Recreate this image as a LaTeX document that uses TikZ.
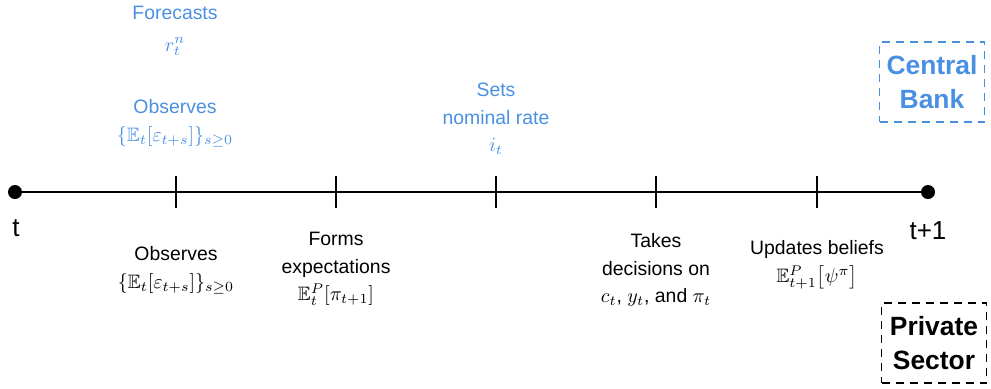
\documentclass[tikz,border=0pt]{standalone}
\usepackage{amsmath, amssymb}
\usepackage{fontspec}
\setmainfont{Liberation Sans}
\usetikzlibrary{positioning,calc}
\definecolor{cbblue}{RGB}{74,144,226}
\tikzset{
  lbl/.style={align=center, inner sep=0pt, font=\fontsize{9.7}{13.8}\selectfont},
  cblbl/.style={lbl, text=cbblue},
  agent/.style={dash pattern=on 4pt off 3pt, thick, minimum width=52.5pt, minimum height=40pt, align=center, font=\fontsize{13.2}{17}\selectfont\bfseries},
  tdot/.style={circle, fill, inner sep=0pt, minimum size=7pt}
}

\begin{document}
\begin{tikzpicture}[x=0.5pt,y=-0.5pt]
\useasboundingbox (0,0) rectangle (991,388);
% time line
\node[tdot] (start) at (15,192) {};
\node[tdot] (stop) at (928,192) {};
\draw[thick] (start) -- (stop);
\node[lbl, font=\fontsize{13}{16}\selectfont] at (16,228) {t};
\node[lbl, font=\fontsize{13}{16}\selectfont] at (928,231) {t+1};
\foreach \x/\n in {176/a,336/b,496/c,656/d,817/e} {
  \coordinate (tick\n) at (\x,192);
  \draw[thick] ($(tick\n)+(0,-16)$) -- ($(tick\n)+(0,16)$);
}
% central bank
\node[cblbl] (forecast) at (175,31) {Forecasts\\[2pt] $r_t^n$};
\node[cblbl] (cbobs) at (175,123) {Observes\\ $\{\mathbb{E}_t[\varepsilon_{t+s}]\}_{s\geq0}$};
\node[cblbl] (rate) at (496,119) {Sets\\ nominal rate\\ $i_t$};
% private sector
\node[lbl] (psobs) at (176,270) {Observes\\ $\{\mathbb{E}_t[\varepsilon_{t+s}]\}_{s\geq0}$};
\node[lbl] (expect) at (336,269) {Forms\\ expectations\\ $\mathbb{E}_t^P[\pi_{t+1}]$};
\node[lbl] (decide) at (656,270) {Takes\\ decisions on\\ $c_t$, $y_t$, and $\pi_t$};
\node[lbl] (update) at (817,265) {Updates beliefs\\ $\mathbb{E}_{t+1}^P\big[\psi^\pi\big]$};
% legend
\node[agent, draw=cbblue, text=cbblue] (cb) at (932,82) {Central\\ Bank};
\node[agent, draw=black] (ps) at (934,343) {Private\\ Sector};
\end{tikzpicture}
\end{document}
